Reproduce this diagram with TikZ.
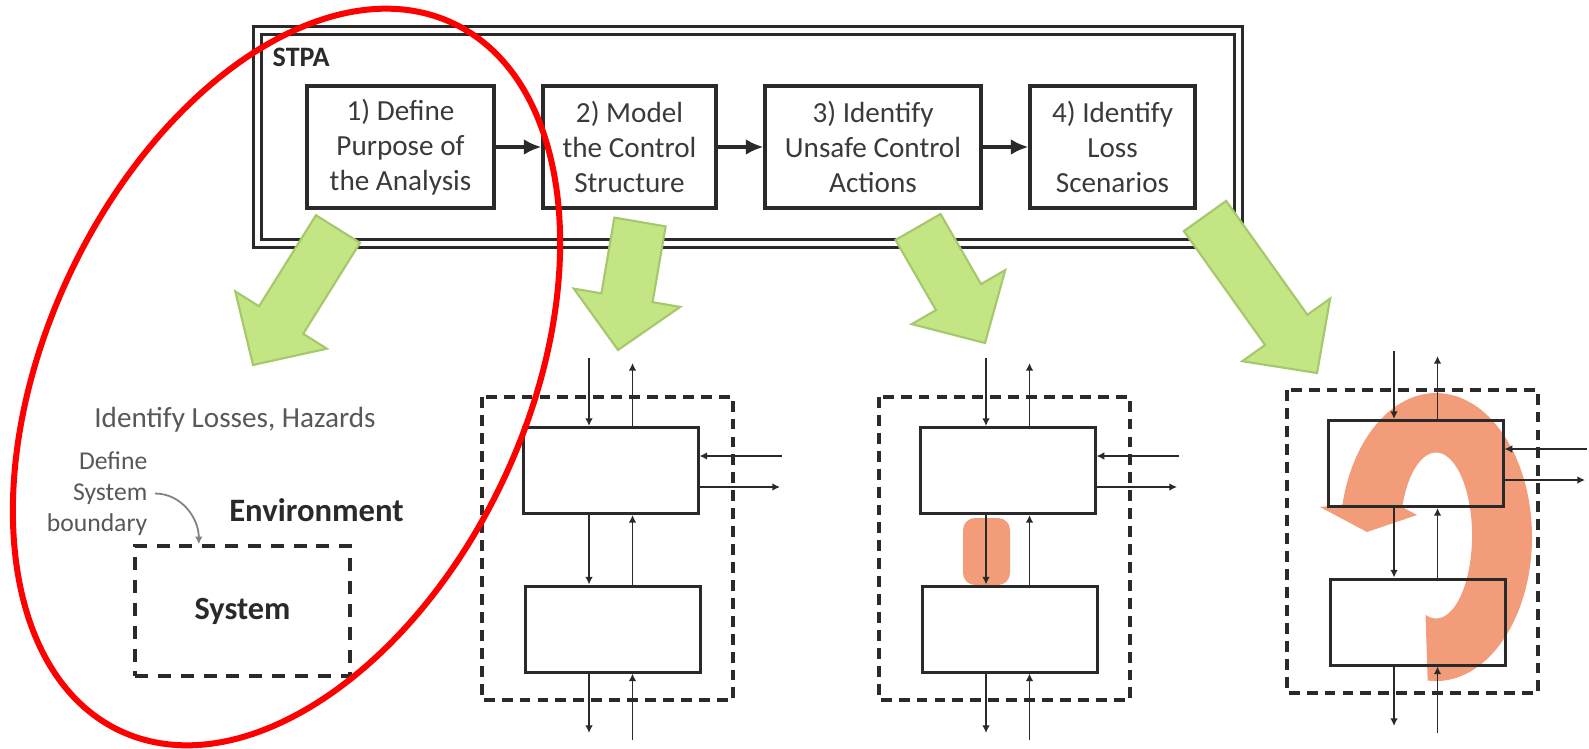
\documentclass[tikz,border=0pt]{standalone}
\usepackage{fontspec}
\setmainfont{Carlito}
\usetikzlibrary{arrows.meta,calc}
\definecolor{ink}{RGB}{42,42,42}
\definecolor{txt}{RGB}{58,58,58}
\definecolor{soft}{RGB}{88,88,88}
\definecolor{leaf}{RGB}{196,229,132}
\definecolor{leafedge}{RGB}{165,200,108}
\definecolor{salmon}{RGB}{243,156,122}
\newcommand{\greenarrow}[4]{%
  \pgfmathsetmacro{\gAng}{atan2((#4)-(#2),(#3)-(#1))}%
  \pgfmathsetmacro{\gLen}{veclen((#3)-(#1),(#4)-(#2))}%
  \pgfmathsetmacro{\gBar}{\gLen-0.53}%
  \filldraw[fill=leaf, draw=leafedge, line width=0.6pt, shift={(#1,#2)}, rotate=\gAng]
    (0,-0.26) -- (\gBar,-0.26) -- (\gBar,-0.54) -- (\gLen,0) -- (\gBar,0.54) -- (\gBar,0.26) -- (0,0.26) -- cycle;}

\begin{document}
\begin{tikzpicture}[scale=1, >={Latex[length=2.2pt,width=2.2pt]}]
  \tikzstyle{stepbox}=[draw=ink, line width=0.9pt, minimum height=1.22cm, align=center, text=txt, font=\fontsize{8.3}{10}\selectfont, inner sep=0pt]
  \tikzstyle{blk}=[draw=ink, line width=0.85pt, minimum width=1.75cm, minimum height=0.86cm, inner sep=0pt]
  \tikzstyle{fence}=[draw=ink, line width=1.1pt, dash pattern=on 3.1pt off 2pt]
  \tikzstyle{wire}=[draw=ink, line width=0.45pt]
  \useasboundingbox (0,0) rectangle (15.89,-7.48);

  \draw[ink, line width=0.03cm, double=white, double distance=0.05cm] (2.575,-0.31) rectangle (12.385,-2.435);
  \node[anchor=west, inner sep=0pt, text=ink, font=\fontsize{8}{9}\selectfont\bfseries] (stpa) at (2.72,-0.57) {STPA};
  \node[stepbox, minimum width=1.87cm] (s1) at (4.005,-1.47) {1) Define\\Purpose of\\the Analysis};
  \node[stepbox, minimum width=1.73cm] (s2) at (6.295,-1.47) {2) Model\\the Control\\Structure};
  \node[stepbox, minimum width=2.16cm] (s3) at (8.73,-1.47) {3) Identify\\Unsafe Control\\Actions};
  \node[stepbox, minimum width=1.65cm] (s4) at (11.125,-1.47) {4) Identify\\Loss\\Scenarios};
  \foreach \a/\b in {s1/s2, s2/s3, s3/s4}
    \draw[ink, line width=1.3pt, -{Latex[length=5pt,width=4.5pt]}] (\a) -- (\b);

  \greenarrow{3.38}{-2.29}{2.53}{-3.65}
  \greenarrow{6.40}{-2.22}{6.18}{-3.50}
  \greenarrow{9.18}{-2.27}{9.85}{-3.43}
  \greenarrow{12.05}{-2.16}{13.17}{-3.73}

  \node[text=soft, font=\fontsize{8.3}{10}\selectfont] (goal) at (2.35,-4.20) {Identify Losses, Hazards};
  \node[anchor=east, align=right, inner sep=2pt, text=soft, font=\fontsize{7.3}{8.8}\selectfont] (bound) at (1.55,-4.935) {Define\\System\\boundary};
  \node[text=ink, font=\fontsize{9.3}{11}\selectfont\bfseries] (env) at (3.165,-5.10) {Environment};
  \node[fence, line width=1pt, dash pattern=on 3.7pt off 2.8pt, minimum width=2.15cm, minimum height=1.30cm, text=ink, font=\fontsize{9.2}{11}\selectfont\bfseries] (sys) at (2.425,-6.11) {System};
  \coordinate (edge) at ($(sys.north west)!0.3!(sys.north east)$);
  \draw[gray, line width=0.5pt, ->] (bound.east) to[out=0, in=90] (edge);

  \fill[salmon, rounded corners=0.12cm] (9.63,-5.18) rectangle (10.10,-5.85);
  \fill[salmon] (14.276,-6.805) arc[start angle=265, end angle=527, x radius=0.96, y radius=1.44]
    -- (13.20,-5.07) -- (13.67,-5.32) -- (14.17,-5.15) -- (14.022,-5.071)
    arc[start angle=160, end angle=-107, x radius=0.36, y radius=0.83] -- cycle;

  \foreach \n/\X/\Y in {2/5.23/4.28, 3/9.20/4.28, 4/13.28/4.21} {
    \draw[fence] ({\X-0.41},{-\Y+0.31}) rectangle ({\X+2.10},{-\Y-2.72});
    \node[blk] (u\n) at ({\X+0.875},{-\Y-0.425}) {};
    \node[blk] (l\n) at ({\X+0.895},{-\Y-2.01}) {};
    \coordinate (ti\n) at ({\X+0.66},{-\Y+0.70});
    \coordinate (to\n) at ({\X+1.095},{-\Y+0.65});
    \coordinate (bo\n) at ({\X+0.66},{-\Y-3.05});
    \coordinate (bi\n) at ({\X+1.095},{-\Y-3.12});
    \coordinate (ri\n) at ({\X+2.59},{-\Y-0.28});
    \coordinate (ro\n) at ({\X+2.57},{-\Y-0.59});
    \draw[wire, ->] (ti\n) -- (ti\n |- u\n.north);
    \draw[wire, ->] (to\n |- u\n.north) -- (to\n);
    \draw[wire, ->] (ti\n |- u\n.south) -- (ti\n |- l\n.north);
    \draw[wire, ->] (to\n |- l\n.north) -- (to\n |- u\n.south);
    \draw[wire, ->] (bo\n |- l\n.south) -- (bo\n);
    \draw[wire, ->] (bi\n) -- (bi\n |- l\n.south);
    \draw[wire, ->] (ri\n) -- (ri\n -| u\n.east);
    \draw[wire, ->] (u\n.east |- ro\n) -- (ro\n);
  }

  \draw[red, line width=0.06cm, rotate around={64.8:(2.865,-3.77)}] (2.865,-3.77) ellipse [x radius=3.91, y radius=2.40];
\end{tikzpicture}
\end{document}
